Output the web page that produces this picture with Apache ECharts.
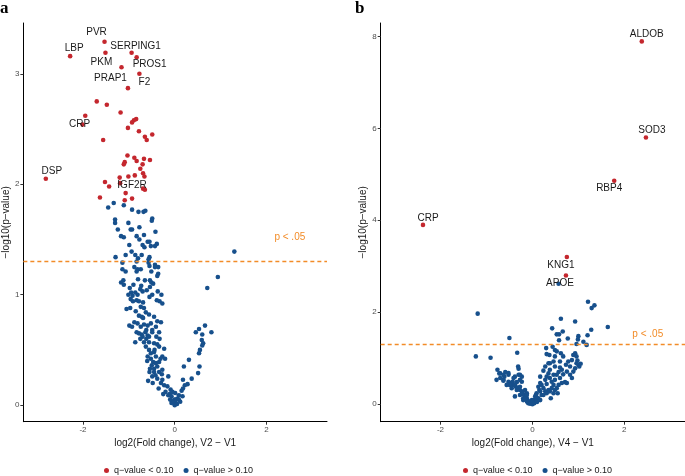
<!DOCTYPE html>
<html>
<head>
<meta charset="utf-8">
<script src="https://cdn.jsdelivr.net/npm/echarts@6/dist/echarts.min.js"></script>
<style>
html,body{margin:0;padding:0;background:#fff;}
#chart{width:685px;height:476px;}
</style>
</head>
<body>
<div id="chart"></div>
<script>
// ---------- DATA ----------
// Panel a: V2 - V1
const aLabeledGenes = ['PVR','LBP','SERPING1','PKM','PROS1','PRAP1','F2','CRP','DSP','IGF2R'];
const aLabeledPts = [[-1.53,3.29],[-2.28,3.16],[-0.94,3.19],[-1.51,3.19],[-0.83,3.15],[-1.16,3.06],[-0.77,3.00],[-2.01,2.54],[-2.81,2.05],[-0.69,1.96]];
const aSigPts = [[-1.02,2.87],[-1.70,2.75],[-1.48,2.72],[-1.18,2.65],[-1.95,2.62],[-0.84,2.59],[-0.89,2.58],[-0.93,2.56],[-1.02,2.51],[-0.78,2.48],[-0.49,2.45],[-0.65,2.43],[-0.61,2.40],[-1.56,2.40],[-1.03,2.26],[-0.88,2.24],[-0.83,2.21],[-0.67,2.23],[-0.54,2.22],[-1.09,2.20],[-1.11,2.18],[-0.70,2.18],[-0.75,2.14],[-0.69,2.10],[-0.66,2.07],[-0.87,2.08],[-1.01,2.07],[-1.20,2.06],[-1.52,2.02],[-1.43,1.98],[-1.19,2.01],[-0.65,1.95],[-1.07,1.92],[-1.63,1.88],[-0.93,1.87],[-1.09,1.855]];
const aOtherPts = [[-1.33,1.83],[-1.45,1.79],[-1.11,1.81],[-0.93,1.77],[-0.79,1.75],[-0.68,1.75],[-0.64,1.76],[-1.30,1.68],[-1.30,1.65],[-0.49,1.69],[-0.50,1.67],[-1.01,1.65],[-1.24,1.59],[-0.96,1.59],[-0.93,1.59],[-0.77,1.61],[-0.42,1.57],[-1.17,1.53],[-1.11,1.52],[-0.83,1.53],[-0.67,1.54],[-0.77,1.50],[-0.55,1.48],[-0.59,1.48],[-0.99,1.45],[-0.70,1.45],[-0.66,1.43],[-0.52,1.44],[-0.43,1.44],[-0.39,1.46],[-0.94,1.39],[-1.07,1.36],[-1.29,1.34],[-0.86,1.36],[-0.72,1.36],[-0.80,1.33],[-0.55,1.34],[-0.57,1.32],[-1.14,1.29],[-0.83,1.30],[-0.57,1.29],[-0.55,1.26],[-0.43,1.27],[-0.36,1.25],[-0.43,1.25],[-0.88,1.25],[-1.14,1.23],[-1.07,1.21],[-0.81,1.23],[-0.74,1.23],[-0.83,1.21],[-0.51,1.21],[-0.36,1.19],[-0.38,1.17],[-1.12,1.13],[-1.17,1.11],[-1.11,1.09],[-0.80,1.14],[-0.65,1.13],[-0.54,1.13],[-0.51,1.11],[-0.47,1.10],[-0.90,1.09],[-0.73,1.08],[-0.98,1.06],[-0.54,1.07],[-0.75,1.05],[-0.61,1.04],[-0.37,1.03],[-0.70,1.03],[-0.95,1.02],[-0.86,1.02],[-1.01,1.00],[-0.92,0.99],[-0.81,1.00],[-0.49,1.00],[-0.29,1.00],[-0.55,0.98],[-0.83,0.95],[-0.69,0.93],[-0.33,0.94],[-0.27,0.92],[-0.39,0.95],[-0.91,0.94],[-0.96,0.96],[-0.78,0.94],[1.30,1.39],[0.94,1.16],[0.71,1.06],
[-1.05,0.87],[-0.97,0.88],[-0.85,0.85],[-0.74,0.89],[-0.67,0.88],[-0.63,0.84],[-0.56,0.82],[-0.45,0.80],[-0.38,0.76],[-0.30,0.75],[-0.78,0.81],[-0.72,0.80],[-0.69,0.79],[-0.99,0.72],[-0.93,0.71],[-0.88,0.75],[-0.81,0.74],[-0.74,0.71],[-0.67,0.73],[-0.59,0.72],[-0.52,0.74],[-0.41,0.71],[-0.49,0.68],[-0.83,0.66],[-0.78,0.65],[-0.72,0.64],[-0.64,0.66],[-0.59,0.63],[-0.56,0.62],[-0.49,0.66],[-0.34,0.66],[-0.33,0.60],[-0.86,0.57],[-0.67,0.57],[-0.56,0.57],[-0.45,0.56],[-0.38,0.55],[-0.63,0.53],[-0.56,0.50],[-0.52,0.47],[-0.45,0.48],[-0.34,0.53],[-0.23,0.51],[-0.59,0.44],[-0.52,0.42],[-0.41,0.44],[-0.27,0.44],[-0.21,0.42],[-0.47,0.39],[-0.41,0.38],[-0.34,0.39],[-0.54,0.33],[-0.45,0.33],[-0.38,0.35],[-0.27,0.32],[-0.45,0.30],[-0.34,0.30],[-0.28,0.28],[-0.49,0.26],[-0.58,0.22],[-0.38,0.24],[-0.27,0.23],[-0.14,0.26],[-0.23,0.18],[-0.16,0.17],[-0.09,0.14],[-0.20,0.12],[-0.14,0.09],[-0.07,0.08],[-0.01,0.05],[0.02,0.02],[0.06,0.06],[0.09,0.09],[0.15,0.13],[0.18,0.15],[0.18,0.23],[0.22,0.18],[0.28,0.19],[0.37,0.24],[0.20,0.35],[0.31,0.41],[0.51,0.29],[0.54,0.35],[0.53,0.47],[0.55,0.50],[0.60,0.54],[0.59,0.59],[0.62,0.56],[0.46,0.66],[0.53,0.69],[0.60,0.64],[0.66,0.72],[0.80,0.66],[-0.11,0.10],[0.01,0.11],[-0.05,0.12],[0.02,0.05],[0.09,0.05],[0.17,0.08],[-0.04,0.03],[-0.07,0.02],
[-0.62,0.60],[-0.70,0.62],[-0.60,0.40],[-0.50,0.36],[-0.42,0.27],[-0.30,0.20],[-0.35,0.15],[-0.25,0.10],[-0.10,0.05],[0.00,0.00],[0.05,0.01],[0.12,0.03],[-0.55,0.30],[-0.48,0.20],[-0.62,0.68],[-0.75,0.60],[-0.40,0.62],[-0.44,0.50],[-0.31,0.42]];

// Panel b: V4 - V1
const bLabeledGenes = ['ALDOB','SOD3','RBP4','CRP','KNG1','APOE'];
const bLabeledPts = [[2.38,7.89],[2.47,5.80],[1.78,4.86],[-2.38,3.90],[0.75,3.20],[0.73,2.80]];
const bSigPts = [];
const bOtherPts = [[-1.19,1.97],[-0.50,1.44],[-1.23,1.04],[-0.91,1.01],[-0.33,1.12],[1.21,2.23],[1.35,2.15],[1.29,2.09],[1.64,1.68],[0.62,1.86],[0.93,1.80],[0.43,1.65],[0.66,1.58],[0.53,1.52],[0.58,1.52],[0.77,1.43],[1.28,1.62],[1.20,1.50],[1.00,1.48],[0.99,1.41],[0.96,1.31],[1.11,1.36],[1.18,1.29],[0.30,1.22],[0.44,1.25],[0.58,1.39],[0.57,2.62],
[0.31,1.09],[0.37,1.07],[0.49,1.18],[0.53,1.15],[0.62,1.11],[0.67,1.04],[0.60,0.93],[0.46,0.93],[0.35,0.89],[0.28,0.82],[0.38,0.75],[0.49,0.82],[0.60,0.80],[0.73,0.86],[0.78,0.93],[0.86,0.96],[0.89,1.07],[0.93,1.11],[0.96,1.04],[0.82,0.82],[1.00,0.86],[0.93,0.78],[0.75,0.71],[0.67,0.65],[0.57,0.70],[0.46,0.64],[0.35,0.67],[0.24,0.73],[0.17,0.60],[0.28,0.53],[0.38,0.57],[0.49,0.53],[0.60,0.57],[0.71,0.48],[0.57,0.42],[0.46,0.42],[0.31,0.44],[0.20,0.42],[0.15,0.31],[0.09,0.24],[0.06,0.17],[0.02,0.09],[-0.01,0.04],[0.06,0.07],[0.13,0.13],[0.20,0.20],[0.28,0.28],[0.35,0.31],[0.42,0.35],[0.49,0.31],[0.24,0.35],[0.17,0.46],[0.13,0.38],[0.08,0.20],[-0.05,0.04],[-0.09,0.07],[-0.12,0.13],[-0.16,0.17],[-0.20,0.22],[-0.23,0.28],[-0.27,0.31],[-0.30,0.35],[-0.36,0.38],[-0.41,0.42],[-0.47,0.41],[-0.49,0.46],[-0.43,0.49],[-0.34,0.48],[-0.27,0.53],[-0.23,0.60],[-0.30,0.64],[-0.38,0.60],[-0.52,0.64],[-0.61,0.60],[-0.63,0.53],[-0.70,0.57],[-0.76,0.75],[-0.70,0.67],[-0.59,0.70],[-0.31,0.82],[-0.16,0.31],[-0.12,0.24],[-0.38,0.17],[-0.27,0.20],[-0.20,0.13],[0.40,0.13],[0.75,0.46],[0.55,0.24],
[0.17,0.28],[0.24,0.20],[0.31,0.24],[0.38,0.28],[0.46,0.24],[0.09,0.13],[0.17,0.09],[0.53,0.35],[0.64,0.46],[0.82,0.64],[0.89,0.71],[0.86,0.57],[0.96,0.89],[0.53,0.64],[0.64,0.75],[0.31,0.60],[0.42,0.49],[1.02,0.82],[1.05,0.88],[0.98,0.95],[0.49,1.04],[0.38,0.89],
[-0.72,0.67],[-0.78,0.53],[-0.63,0.64],[-0.52,0.68],[-0.30,0.77],[-0.63,0.51],[-0.52,0.49],[-0.41,0.57],[-0.27,0.64],[-0.49,0.42],[-0.45,0.35],[-0.34,0.31],[-0.20,0.09],[-0.12,0.06],[-0.09,0.02],[-0.05,0.01],[-0.27,0.38],[-0.23,0.49],[-0.38,0.42],[-0.56,0.42],[-0.12,0.20],[-0.16,0.13],[-0.01,0.09],[0.00,0.00],[0.04,0.02],[0.10,0.05]];

const seriesNames = ['q\u2212value < 0.10', 'q\u2212value > 0.10'];
const pThreshold = 1.301;          // -log10(0.05)
const pLabelText = 'p < .05';
const pLabelAt = [2.51, 1.52];
const xTicks = [-2, 0, 2];
const aYTicks = [0, 1, 2, 3];
const bYTicks = [0, 2, 4, 6, 8];
const xTitles = ['log2(Fold change), V2 \u2212 V1', 'log2(Fold change), V4 \u2212 V1'];
const yTitle = '\u2212log10(p\u2212value)';
const panelTags = ['a', 'b'];

// ---------- STYLE ----------
const RED = '#C4272E', BLUE = '#17508C', ORANGE = '#F28C28';
const FONT = '"Liberation Sans", Arial, Helvetica, sans-serif';
const SERIF = '"Liberation Serif", "DejaVu Serif", serif';
const aLabelOffsets = {PVR:[-8,-10], LBP:[4,-8], SERPING1:[4,-7], PKM:[-4,9], PROS1:[13,7], PRAP1:[-11,11], F2:[5,8], CRP:[-3,0], DSP:[6,-7], IGF2R:[-11,-3]};
const bLabelOffsets = {ALDOB:[5,-7], SOD3:[6,-7], RBP4:[-5,8], CRP:[5,-7], KNG1:[-6,8], APOE:[-6,8]};

function labeledData(genes, pts, offsets) {
  return pts.map((p, i) => ({
    value: p,
    label: {show: true, formatter: genes[i], position: 'inside', offset: offsets[genes[i]],
            color: '#1a1a1a', fontSize: 10, fontFamily: FONT}
  }));
}

const chart = echarts.init(document.getElementById('chart'), null, {renderer: 'canvas'});

const grids = [
  {left: 22, top: 23, width: 305, height: 398.7},
  {left: 380.7, top: 23, width: 304.3, height: 398.7}
];

function xAxis(i) {
  return {
    type: 'value', gridIndex: i, min: -3.30, max: 3.32,
    name: xTitles[i], nameLocation: 'middle', nameGap: 15,
    nameTextStyle: {color: '#1a1a1a', fontSize: 10, fontFamily: FONT},
    axisLine: {show: true, onZero: false, lineStyle: {color: '#000', width: 1}},
    axisTick: {show: true, length: 3, lineStyle: {color: '#333'}, customValues: xTicks},
    axisLabel: {color: '#4d4d4d', fontSize: 8, fontFamily: FONT, margin: 4, customValues: xTicks},
    splitLine: {show: false}
  };
}
function yAxis(i, min, max, ticks) {
  return {
    type: 'value', gridIndex: i, min: min, max: max,
    name: yTitle, nameLocation: 'middle', nameGap: 12,
    nameTextStyle: {color: '#1a1a1a', fontSize: 10, fontFamily: FONT},
    axisLine: {show: true, onZero: false, lineStyle: {color: '#000', width: 1}},
    axisTick: {show: true, length: 3, lineStyle: {color: '#333'}, customValues: ticks},
    axisLabel: {color: '#4d4d4d', fontSize: 8, fontFamily: FONT, margin: 4, customValues: ticks},
    splitLine: {show: false}
  };
}

function thresholdMarks() {
  return {
    markLine: {
      silent: true, symbol: 'none', animation: false,
      lineStyle: {type: [4, 3], color: ORANGE, width: 1.3, opacity: 1},
      emphasis: {disabled: true},
      label: {show: false},
      data: [{yAxis: pThreshold}]
    },
    markPoint: {
      silent: true, animation: false, symbol: 'circle', symbolSize: 1,
      itemStyle: {color: 'rgba(0,0,0,0)'},
      label: {show: true, formatter: pLabelText, position: 'inside', color: ORANGE, fontSize: 10, fontFamily: FONT},
      data: [{coord: pLabelAt}]
    }
  };
}

function panelSeries(i, labeledGenes, labeledPts, sigPts, otherPts, offsets) {
  return [
    Object.assign({
      name: seriesNames[1], type: 'scatter', xAxisIndex: i, yAxisIndex: i,
      symbolSize: 4.6, itemStyle: {color: BLUE, opacity: 1},
      data: otherPts, z: 2
    }, thresholdMarks()),
    {
      name: seriesNames[0], type: 'scatter', xAxisIndex: i, yAxisIndex: i,
      symbolSize: 4.6, itemStyle: {color: RED, opacity: 1},
      data: labeledData(labeledGenes, labeledPts, offsets).concat(sigPts), z: 3
    }
  ];
}

const legendBase = {
  data: seriesNames, top: 461, icon: 'circle', itemWidth: 5, itemHeight: 5, itemGap: 10,
  textStyle: {fontSize: 9, color: '#1a1a1a', fontFamily: FONT}, selectedMode: false
};

const option = {
  animation: false,
  backgroundColor: '#fff',
  textStyle: {fontFamily: FONT},
  grid: grids,
  xAxis: [xAxis(0), xAxis(1)],
  yAxis: [yAxis(0, -0.15, 3.46, aYTicks), yAxis(1, -0.38, 8.29, bYTicks)],
  title: [
    {text: panelTags[0], left: 0, top: 0, padding: 0, textStyle: {fontFamily: SERIF, fontWeight: 'bold', fontSize: 17, color: '#000'}},
    {text: panelTags[1], left: 355, top: 0, padding: 0, textStyle: {fontFamily: SERIF, fontWeight: 'bold', fontSize: 17, color: '#000'}}
  ],
  legend: [
    Object.assign({left: 99}, legendBase),
    Object.assign({left: 458}, legendBase)
  ],
  series: panelSeries(0, aLabeledGenes, aLabeledPts, aSigPts, aOtherPts, aLabelOffsets)
    .concat(panelSeries(1, bLabeledGenes, bLabeledPts, bSigPts, bOtherPts, bLabelOffsets))
};
chart.setOption(option);
</script>
</body>
</html>
